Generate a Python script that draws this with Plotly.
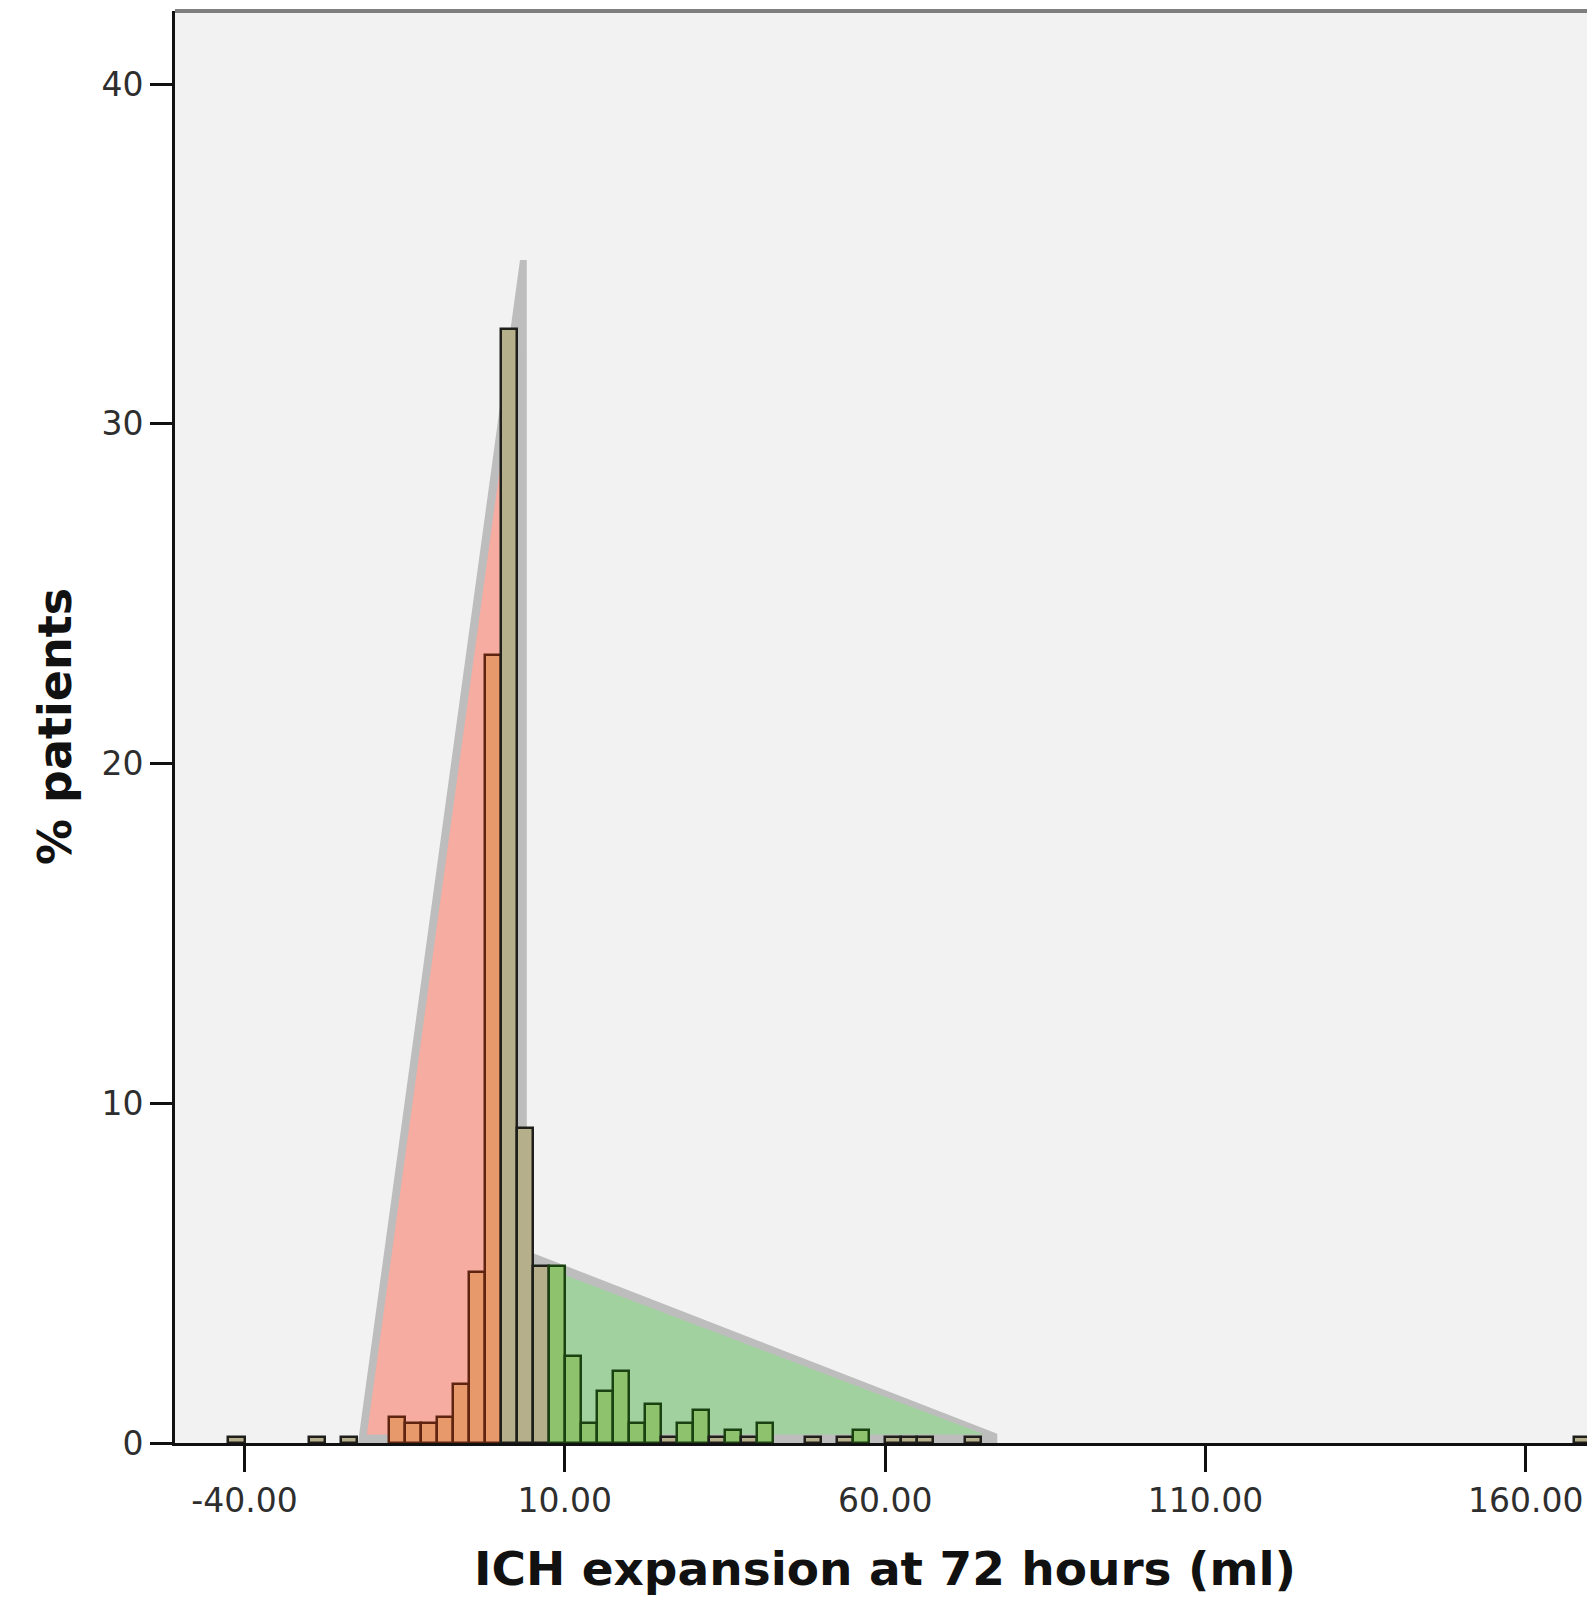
import plotly.graph_objects as go

# Histogram bins (left edges, ml), bin width 2.5 and % patients
bin_left = [-42.5, -30, -25, -17.5, -15, -12.5, -10, -7.5, -5, -2.5, 0, 2.5, 5, 7.5,
            10, 12.5, 15, 17.5, 20, 22.5, 25, 27.5, 30, 32.5, 35, 37.5, 40,
            47.5, 52.5, 55, 60, 62.5, 65, 72.5, 167.5]
pct = [0.19, 0.19, 0.19, 0.77, 0.58, 0.58, 0.77, 1.74, 5.02, 23.2, 32.8, 9.27, 5.21, 5.21,
       2.56, 0.58, 1.54, 2.12, 0.58, 1.16, 0.19, 0.58, 0.97, 0.19, 0.39, 0.19, 0.58,
       0.19, 0.19, 0.39, 0.19, 0.19, 0.19, 0.19, 0.19]
group = ["mix", "mix", "mix", "dec", "dec", "dec", "dec", "dec", "dec", "dec", "mix", "mix", "mix", "inc",
         "inc", "inc", "inc", "inc", "inc", "inc", "mix", "inc", "inc", "mix", "inc", "mix", "inc",
         "mix", "mix", "inc", "mix", "mix", "mix", "mix", "mix"]
bin_width = 2.5

# Background triangles (x in ml, y in %)
red_halo_x = [-22.65, 3.0, 4.06, 4.06]
red_halo_y = [-0.5, 34.82, 34.82, -0.5]
red_tri_x = [-20.9, 2.5, 2.5]
red_tri_y = [0.25, 32.3, 0.25]
green_halo_x = [4.06, 4.06, 77.5, 77.5]
green_halo_y = [-0.5, 5.66, 0.27, -0.5]
green_tri_x = [5.0, 5.0, 75.5]
green_tri_y = [0.25, 5.3, 0.25]

x_ticks = [-40, 10, 60, 110, 160]
x_tick_text = ["-40.00", "10.00", "60.00", "110.00", "160.00"]
y_ticks = [0, 10, 20, 30, 40]
y_tick_text = ["0", "10", "20", "30", "40"]

fill_map = {"dec": "#E8996B", "mix": "#B6AF8B", "inc": "#8EC26C"}
line_map = {"dec": "#5E2410", "mix": "#1E1E1A", "inc": "#1A4211"}

centers = [b + bin_width / 2 for b in bin_left]

fig = go.Figure()
fig.add_trace(go.Bar(
    x=centers, y=pct, width=bin_width,
    marker=dict(color=[fill_map[g] for g in group],
                line=dict(color=[line_map[g] for g in group], width=2.5)),
    showlegend=False, hoverinfo="skip"))


def path(xs, ys):
    s = "M %f %f " % (xs[0], ys[0])
    for a, b in zip(xs[1:], ys[1:]):
        s += "L %f %f " % (a, b)
    return s + "Z"


shapes = [
    dict(type="path", xref="x", yref="y", path=path(red_halo_x, red_halo_y),
         fillcolor="#BDBDBD", line=dict(width=0), layer="below"),
    dict(type="path", xref="x", yref="y", path=path(green_halo_x, green_halo_y),
         fillcolor="#BDBDBD", line=dict(width=0), layer="below"),
    dict(type="path", xref="x", yref="y", path=path(red_tri_x, red_tri_y),
         fillcolor="#F6ACA1", line=dict(width=0), layer="below"),
    dict(type="path", xref="x", yref="y", path=path(green_tri_x, green_tri_y),
         fillcolor="#A2D1A0", line=dict(width=0), layer="below"),
    dict(type="line", xref="paper", yref="paper", x0=0, x1=1, y0=1, y1=1,
         line=dict(color="#7F7F7F", width=4), layer="above"),
]

font_tick = dict(family="DejaVu Sans", size=33, color="#2E2E2E")

# page body has an 8px margin, so the figure is offset accordingly
fig.update_layout(
    width=1587, height=1592,
    margin=dict(l=167, r=0, t=3, b=157),
    paper_bgcolor="white", plot_bgcolor="#F2F2F2",
    shapes=shapes,
    bargap=0,
    xaxis=dict(range=[-50.85, 170.8], tickvals=x_ticks, ticktext=x_tick_text,
               ticks="outside", ticklen=26, tickwidth=3, tickcolor="#111",
               showline=True, linecolor="#111", linewidth=3, showgrid=False,
               zeroline=False, tickfont=font_tick),
    yaxis=dict(range=[0, 42.15], tickvals=y_ticks, ticktext=y_tick_text,
               ticks="outside", ticklen=22, tickwidth=3, tickcolor="#111",
               showline=True, linecolor="#111", linewidth=3, showgrid=False,
               zeroline=False, tickfont=font_tick),
    annotations=[
        dict(text="<b>ICH expansion at 72 hours (ml)</b>", xref="paper", yref="paper",
             x=0.5, y=-0.0873, xanchor="center", yanchor="middle", showarrow=False,
             font=dict(family="DejaVu Sans", size=47, color="#111")),
        dict(text="<b>% patients</b>", xref="paper", yref="paper", textangle=-90,
             x=-0.0845, y=0.5, xanchor="center", yanchor="middle", showarrow=False,
             font=dict(family="DejaVu Sans", size=46, color="#111")),
    ],
)

fig.write_html("out.html")
